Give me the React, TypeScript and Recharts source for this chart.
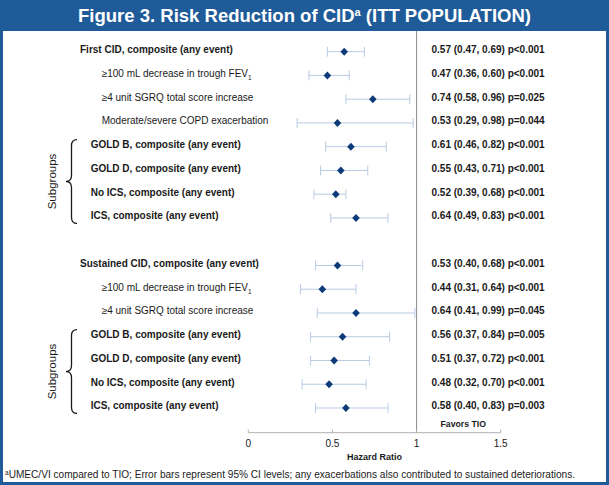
import React from "react";
import {
  ScatterChart,
  Scatter,
  XAxis,
  YAxis,
  ErrorBar,
  ReferenceLine,
  ReferenceArea,
} from "recharts";

// outcome rows, top to bottom
const outcomes = [
  "First CID, composite (any event)",
  "≥100 mL decrease in trough FEV₁",
  "≥4 unit SGRQ total score increase",
  "Moderate/severe COPD exacerbation",
  "GOLD B, composite (any event)",
  "GOLD D, composite (any event)",
  "No ICS, composite (any event)",
  "ICS, composite (any event)",
  "Sustained CID, composite (any event)",
  "≥100 mL decrease in trough FEV₁",
  "≥4 unit SGRQ total score increase",
  "GOLD B, composite (any event)",
  "GOLD D, composite (any event)",
  "No ICS, composite (any event)",
  "ICS, composite (any event)",
];
const levels = [
  "main", "sub", "sub", "sub", "group", "group", "group", "group",
  "main", "sub", "sub", "group", "group", "group", "group",
];
const rows = [0, 1, 2, 3, 4, 5, 6, 7, 9, 10, 11, 12, 13, 14, 15];
const hazardRatio = [0.57, 0.47, 0.74, 0.53, 0.61, 0.55, 0.52, 0.64, 0.53, 0.44, 0.64, 0.56, 0.51, 0.48, 0.58];
const ciLow = [0.47, 0.36, 0.58, 0.29, 0.46, 0.43, 0.39, 0.49, 0.4, 0.31, 0.41, 0.37, 0.37, 0.32, 0.4];
const ciHigh = [0.69, 0.6, 0.96, 0.98, 0.82, 0.71, 0.58, 0.83, 0.68, 0.64, 0.99, 0.84, 0.72, 0.7, 0.83];
const resultText = [
  "0.57 (0.47, 0.69) p<0.001",
  "0.47 (0.36, 0.60) p<0.001",
  "0.74 (0.58, 0.96) p=0.025",
  "0.53 (0.29, 0.98) p=0.044",
  "0.61 (0.46, 0.82) p<0.001",
  "0.55 (0.43, 0.71) p<0.001",
  "0.52 (0.39, 0.68) p<0.001",
  "0.64 (0.49, 0.83) p<0.001",
  "0.53 (0.40, 0.68) p<0.001",
  "0.44 (0.31, 0.64) p<0.001",
  "0.64 (0.41, 0.99) p=0.045",
  "0.56 (0.37, 0.84) p=0.005",
  "0.51 (0.37, 0.72) p<0.001",
  "0.48 (0.32, 0.70) p<0.001",
  "0.58 (0.40, 0.83) p=0.003",
];
const xTicks = [0, 0.5, 1, 1.5];
const subgroupRanges = [
  [4, 7],
  [12, 15],
];

const BLUE = "#1f5b99";
const FONT = "'Liberation Sans', Arial, Helvetica, sans-serif";
const INK = "#1a1a1a";

const data = outcomes.map((label, i) => ({
  label,
  level: levels[i],
  row: rows[i],
  hr: hazardRatio[i],
  err: [hazardRatio[i] - ciLow[i], ciHigh[i] - hazardRatio[i]],
  result: resultText[i],
}));

const labelX: Record<string, number> = { main: 80, sub: 101.7, group: 90.7 };

const ForestMark = (props: any) => {
  const { cx, cy, payload } = props;
  const ty = cy - 2;
  const parts = String(payload.label).split("₁");
  return (
    <g>
      <polygon
        points={`${cx},${cy - 4} ${cx + 3.8},${cy} ${cx},${cy + 4} ${cx - 3.8},${cy}`}
        fill="#0d3b7a"
      />
      <text
        x={labelX[payload.level]}
        y={ty}
        dy="0.35em"
        fontSize={10}
        fontWeight={payload.level === "sub" ? 400 : 700}
        fill={INK}
        fontFamily={FONT}
      >
        {parts[0]}
        {parts.length > 1 && (
          <tspan fontSize={6.5} dy={3}>
            1
          </tspan>
        )}
      </text>
      <text x={431.5} y={ty} dy="0.35em" fontSize={10} fontWeight={700} fill={INK} fontFamily={FONT}>
        {payload.result}
      </text>
    </g>
  );
};

const HrTick = ({ x, y, payload }: any) => (
  <g>
    <line x1={x} x2={x} y1={y} y2={y - 3} stroke="#b0b0b0" />
    <text x={x} y={y + 11} dy="0.35em" textAnchor="middle" fontSize={10} fill={INK} fontFamily={FONT}>
      {payload.value}
    </text>
  </g>
);

const Brace = ({ y, height }: any) => {
  const top = y;
  const bot = y + height;
  const mid = (top + bot) / 2;
  const xe = 77;
  const xs = 71.5;
  const xt = 66;
  const d = `M${xe},${top} Q${xs},${top} ${xs},${top + 6} L${xs},${mid - 6} Q${xs},${mid} ${xt},${mid} Q${xs},${mid} ${xs},${mid + 6} L${xs},${bot - 6} Q${xs},${bot} ${xe},${bot}`;
  return (
    <g>
      <path d={d} fill="none" stroke={INK} strokeWidth={1.3} />
      <text
        x={52}
        y={mid}
        dy="0.35em"
        textAnchor="middle"
        fontSize={11.5}
        fill={INK}
        fontFamily={FONT}
        transform={`rotate(-90 52 ${mid})`}
      >
        Subgroups
      </text>
    </g>
  );
};

const FavorsLabel = ({ viewBox }: any) => (
  <text
    x={viewBox.x + 24}
    y={viewBox.y + viewBox.height - 9}
    dy="0.35em"
    fontSize={8.7}
    fontWeight={700}
    fill={INK}
    fontFamily={FONT}
  >
    Favors TIO
  </text>
);

export default function App() {
  return (
    <div style={{ position: "absolute", left: 0, top: 0, width: 609, height: 485, background: "#fff", fontFamily: FONT }}>
      <div
        style={{
          position: "absolute",
          left: 0,
          top: 0,
          width: 609,
          height: 31,
          background: BLUE,
          color: "#fff",
          fontWeight: 700,
          fontSize: 18.5,
          lineHeight: "31px",
          textAlign: "center",
        }}
      >
        Figure 3. Risk Reduction of CID
        <sup style={{ fontSize: 11, verticalAlign: "top", lineHeight: "24px" }}>a</sup> (ITT POPULATION)
      </div>
      <div style={{ position: "absolute", left: 0, top: 0 }}>
        <ScatterChart width={609} height={485} margin={{ top: 31, right: 108.3, bottom: 22.3, left: 248.3 }}>
          <XAxis
            type="number"
            dataKey="hr"
            domain={[0, 1.5]}
            ticks={xTicks}
            height={30}
            tickSize={0}
            tickMargin={0}
            tickLine={false}
            axisLine={{ stroke: "#b0b0b0" }}
            tick={<HrTick />}
            label={{
              value: "Hazard Ratio",
              position: "insideBottom",
              offset: 3,
              fontSize: 9,
              fontWeight: 700,
              fill: INK,
              fontFamily: FONT,
            }}
          />
          <YAxis type="number" dataKey="row" domain={[-0.87, 16.04]} reversed hide />
          {subgroupRanges.map(([a, b]) => (
            <ReferenceArea key={a} y1={a - 0.3} y2={b + 0.23} ifOverflow="visible" shape={<Brace />} />
          ))}
          <ReferenceLine x={1} stroke="#8c8c8c" strokeWidth={1} label={<FavorsLabel />} />
          <Scatter data={data} shape={<ForestMark />} isAnimationActive={false}>
            <ErrorBar dataKey="err" direction="x" width={5} stroke="#b9cbe4" strokeWidth={1} isAnimationActive={false} />
          </Scatter>
        </ScatterChart>
      </div>
      <div
        style={{
          position: "absolute",
          left: 5,
          top: 469,
          fontSize: 10.1,
          lineHeight: "12px",
          color: INK,
          whiteSpace: "nowrap",
        }}
      >
        <sup style={{ fontSize: 6.5, verticalAlign: "top", lineHeight: "8px" }}>a</sup>UMEC/VI compared to TIO; Error bars
        represent 95% CI levels; any exacerbations also contributed to sustained deteriorations.
      </div>
      <div
        style={{
          position: "absolute",
          left: 0,
          top: 0,
          width: 609,
          height: 485,
          boxSizing: "border-box",
          border: `3px solid ${BLUE}`,
          borderTop: "none",
          pointerEvents: "none",
        }}
      />
    </div>
  );
}
